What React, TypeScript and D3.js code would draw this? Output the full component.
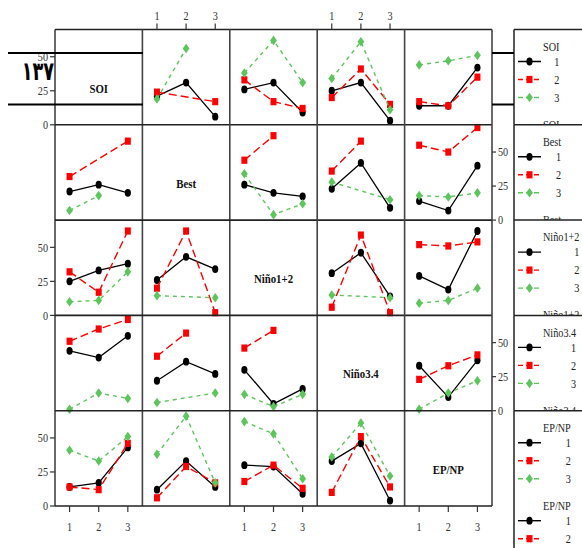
import React, { useMemo } from "react";
import * as d3 from "d3";

const variables = ["SOI", "Best", "Niño1+2", "Niño3.4", "EP/NP"];
const levels = ["1", "2", "3"];
const xTicks = [1, 2, 3];
const yTicks = [0, 25, 50];
const pageNumber = "۱۳۷";

type V = number | null;
// row SOI
const soi1: V[][] = [[], [21, 31, 6], [26, 31, 9], [25, 31, 3], [14, 14, 42]];
const soi2: V[][] = [[], [24, null, 17], [33, 17, 12], [20, 41, 15], [17, 14, 35]];
const soi3: V[][] = [[], [19, 56, null], [38, 62, 31], [34, 61, 11], [44, 47, 51]];
// row Best
const best1: V[][] = [[21, 26, 20], [], [26, 20, 17.5], [23, 42, 9], [14, 7, 40]];
const best2: V[][] = [[32, null, 58], [], [44, 62, null], [36, 58, null], [55, 50, 68]];
const best3: V[][] = [[7, 18, null], [], [34, 4, 12], [28, null, 15], [18, 17, 20]];
// row Niño1+2
const nino12_1: V[][] = [[25, 33, 38], [26, 43, 34], [], [31, 46, 14], [29, 19, 62]];
const nino12_2: V[][] = [[32, 17, 62], [20, 62, 2], [], [6, 59, 2], [52, 51, 54]];
const nino12_3: V[][] = [[10, 11, 32], [14.5, null, 13], [], [15, null, 13], [9, 11, 20]];
// row Niño3.4
const nino34_1: V[][] = [[44, 39, 55], [22, 36, 27], [30, 5, 16], [], [33, 10, 37]];
const nino34_2: V[][] = [[51, 60, 67], [40, 57, null], [46, 59, null], [], [23, 33, 41]];
const nino34_3: V[][] = [[1, 13, 9], [6, null, 13], [12, 3, 12], [], [1, 13, 22]];
// row EP/NP
const epnp1: V[][] = [[14, 17, 43], [12, 33, 14], [30, 29, 9], [33, 46, 4], []];
const epnp2: V[][] = [[14, 12, 46], [6, 29, 17], [18, 30, 13], [10, 51, 14], []];
const epnp3: V[][] = [[41, 33, 51], [38, 66, 17], [62, 53, 20], [36, 61, 22], []];

const rowSeries = [
  [soi1, soi2, soi3],
  [best1, best2, best3],
  [nino12_1, nino12_2, nino12_3],
  [nino34_1, nino34_2, nino34_3],
  [epnp1, epnp2, epnp3],
];

const W = 582, H = 548;
const gridLeft = 55, gridRight = 492, gridTop = 29.5, gridBottom = 506;
const colors = ["#000000", "#FF0000", "#5CC65C"];
const dashes = [undefined, "8,4", "4,4"];
const FONT = "'Liberation Serif', 'Times New Roman', serif";

function Marker({ i, x, y }: { i: number; x: number; y: number }) {
  if (i === 0) return <ellipse cx={x} cy={y} rx={3.1} ry={3.9} fill={colors[0]} />;
  if (i === 1) return <rect x={x - 3} y={y - 3.6} width={6} height={7.2} fill={colors[1]} />;
  return <path d={`M${x},${y - 4.8}L${x + 3.4},${y}L${x},${y + 4.8}L${x - 3.4},${y}Z`} fill={colors[2]} />;
}

function T({ x, y, anchor = "middle", size = 12, sx = 0.85, weight = "normal", fill = "#222", children }: any) {
  return (
    <text
      transform={`translate(${x},${y}) scale(${sx},1)`}
      textAnchor={anchor}
      fontSize={size}
      fontFamily={FONT}
      fontWeight={weight}
      fill={fill}
      dominantBaseline="central"
    >
      {children}
    </text>
  );
}

export default function App() {
  const n = variables.length;
  const colBand = d3.scaleBand<number>().domain(d3.range(n)).range([gridLeft, gridRight]).padding(0);
  const rowBand = d3.scaleBand<number>().domain(d3.range(n)).range([gridTop, gridBottom]).padding(0);
  const cw = colBand.bandwidth();
  const rh = rowBand.bandwidth();

  const titleWidths = useMemo(() => {
    const c = document.createElement("canvas").getContext("2d");
    return variables.map((v) => {
      if (!c) return v.length * 6;
      c.font = `12px ${FONT}`;
      return c.measureText(v).width * 0.85;
    });
  }, []);

  const panels: React.ReactNode[] = [];
  for (let r = 0; r < n; r++) {
    const y0 = rowBand(r)!;
    const y = d3.scaleLinear().domain([0, 70]).range([y0 + rh, y0]);
    for (let c = 0; c < n; c++) {
      const x0 = colBand(c)!;
      const x = d3.scaleLinear().domain([0.5, 3.5]).range([x0, x0 + cw]);
      const items: React.ReactNode[] = [];
      if (r === c) {
        items.push(
          <T key="lab" x={x0 + cw / 2} y={y0 + rh / 2 + 11} size={13.5} sx={0.8} weight="bold" fill="#111">
            {variables[r]}
          </T>
        );
      } else {
        rowSeries[r].forEach((ser, si) => {
          const vals = ser[c];
          const pts = vals
            .map((v, k) => ({ v, k }))
            .filter((d) => d.v !== null) as { v: number; k: number }[];
          const line = d3
            .line<{ v: number; k: number }>()
            .x((d) => x(xTicks[d.k]))
            .y((d) => y(d.v));
          items.push(
            <path
              key={`l${si}`}
              d={line(pts) || ""}
              fill="none"
              stroke={colors[si]}
              strokeWidth={si === 0 ? 1.3 : 1.4}
              strokeDasharray={dashes[si]}
            />
          );
          pts.forEach((d) =>
            items.push(<Marker key={`m${si}-${d.k}`} i={si} x={x(xTicks[d.k])} y={y(d.v)} />)
          );
        });
      }
      panels.push(
        <g key={`p${r}-${c}`}>
          <clipPath id={`cp${r}-${c}`}>
            <rect x={x0} y={y0 - 3} width={cw} height={rh + 6} />
          </clipPath>
          <g clipPath={`url(#cp${r}-${c})`}>{items}</g>
        </g>
      );
    }
  }

  // axes
  const axes: React.ReactNode[] = [];
  for (let r = 0; r < n; r++) {
    const y0 = rowBand(r)!;
    const y = d3.scaleLinear().domain([0, 70]).range([y0 + rh, y0]);
    const left = r % 2 === 0;
    yTicks.forEach((t) => {
      const yy = y(t);
      if (left) {
        axes.push(<line key={`yt${r}-${t}`} x1={gridLeft - 5} x2={gridLeft} y1={yy} y2={yy} stroke="#333" strokeWidth={1.2} />);
        axes.push(
          <T key={`yl${r}-${t}`} x={gridLeft - 7} y={yy} anchor="end" size={12} sx={0.85} fill="#333">
            {t}
          </T>
        );
      } else {
        axes.push(<line key={`yt${r}-${t}`} x1={gridRight} x2={gridRight + 4} y1={yy} y2={yy} stroke="#333" strokeWidth={1.2} />);
        axes.push(
          <T key={`yl${r}-${t}`} x={gridRight + 6} y={yy} anchor="start" size={12} sx={0.85} fill="#333">
            {t}
          </T>
        );
      }
    });
  }
  for (let c = 0; c < n; c++) {
    const x0 = colBand(c)!;
    const x = d3.scaleLinear().domain([0.5, 3.5]).range([x0, x0 + cw]);
    const bottom = c % 2 === 0;
    xTicks.forEach((t) => {
      const xx = x(t);
      if (bottom) {
        axes.push(<line key={`xt${c}-${t}`} x1={xx} x2={xx} y1={gridBottom} y2={gridBottom + 6} stroke="#333" strokeWidth={1.2} />);
        axes.push(
          <T key={`xl${c}-${t}`} x={xx} y={gridBottom + 21} size={12} sx={0.85} fill="#333">
            {t}
          </T>
        );
      } else {
        axes.push(<line key={`xt${c}-${t}`} x1={xx} x2={xx} y1={gridTop - 6} y2={gridTop} stroke="#333" strokeWidth={1.2} />);
        axes.push(
          <T key={`xl${c}-${t}`} x={xx} y={gridTop - 14} size={12} sx={0.85} fill="#333">
            {t}
          </T>
        );
      }
    });
  }

  // grid borders
  const borders: React.ReactNode[] = [];
  d3.range(n + 1).forEach((k) => {
    const xx = k < n ? colBand(k)! : gridRight;
    const yy = k < n ? rowBand(k)! : gridBottom;
    borders.push(<line key={`bv${k}`} x1={xx} x2={xx} y1={gridTop} y2={gridBottom} stroke="#444" strokeWidth={1.6} />);
    borders.push(<line key={`bh${k}`} x1={gridLeft} x2={gridRight} y1={yy} y2={yy} stroke="#222" strokeWidth={1.6} />);
  });

  // legends
  const legX = 514;
  const legends: React.ReactNode[] = [];
  for (let r = 0; r < n; r++) {
    const top = rowBand(r)!;
    const bot = r < n - 1 ? rowBand(r + 1)! : H;
    const tw = titleWidths[r];
    const copies = [17, 95];
    const content: React.ReactNode[] = [];
    copies.forEach((off, ci) => {
      const ty = top + off;
      if (ty > bot + 4) return;
      content.push(
        <T key={`t${ci}`} x={543} y={ty} anchor="start" size={12} sx={0.85} fill="#222">
          {variables[r]}
        </T>
      );
      levels.forEach((lv, li) => {
        const iy = ty + 15 + li * 18;
        if (iy > bot + 4 || iy > H - 6) return;
        content.push(
          <line key={`kl${ci}-${li}`} x1={518} x2={541} y1={iy} y2={iy} stroke={colors[li]} strokeWidth={1.4} strokeDasharray={li === 0 ? undefined : "5,3"} />
        );
        content.push(<Marker key={`km${ci}-${li}`} i={li} x={529.5} y={iy} />);
        content.push(
          <T key={`kt${ci}-${li}`} x={543 + tw} y={iy} anchor="end" size={12} sx={0.85} fill="#222">
            {lv}
          </T>
        );
      });
    });
    legends.push(
      <g key={`leg${r}`}>
        <clipPath id={`lc${r}`}>
          <rect x={legX} y={top} width={W - legX} height={bot - top} />
        </clipPath>
        <rect x={legX} y={top} width={W - legX} height={bot - top} fill="#fff" />
        <g clipPath={`url(#lc${r})`}>{content}</g>
        <line x1={legX} x2={W} y1={top} y2={top} stroke="#222" strokeWidth={1.5} />
        <line x1={legX} x2={legX} y1={top} y2={bot} stroke="#222" strokeWidth={1.5} />
      </g>
    );
  }

  return (
    <svg width={W} height={H} style={{ position: "absolute", left: 0, top: 0, background: "#fff" }}>
      <rect x={0} y={0} width={W} height={H} fill="#fff" />
      {panels}
      {borders}
      {axes}
      {legends}
      {/* overlaid page artefacts */}
      <line x1={8} x2={143} y1={53} y2={53} stroke="#000" strokeWidth={2} />
      <line x1={8} x2={143} y1={104.5} y2={104.5} stroke="#000" strokeWidth={2} />
      <line x1={492} x2={514} y1={53} y2={53} stroke="#000" strokeWidth={2} />
      <line x1={492} x2={514} y1={104.5} y2={104.5} stroke="#000" strokeWidth={2} />
      <text
        transform="translate(54,80) scale(0.68,1)"
        textAnchor="end"
        fontSize={26}
        fontWeight="bold"
        fontFamily="'DejaVu Sans', sans-serif"
        fill="#000"
      >
        {pageNumber}
      </text>
    </svg>
  );
}
